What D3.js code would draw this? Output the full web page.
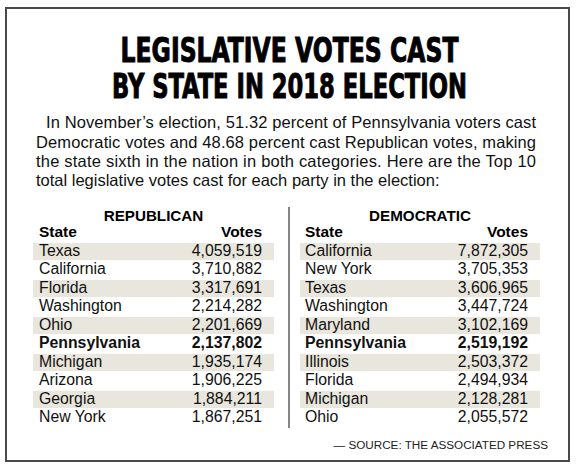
<!DOCTYPE html>
<html><head><meta charset="utf-8">
<script src="https://cdn.jsdelivr.net/npm/d3@7"></script>
<style>body{margin:0;background:#fff}svg{display:block}</style>
</head><body><svg id="c" width="577" height="469"></svg>
<script>
const titleLines = ["LEGISLATIVE VOTES CAST", "BY STATE IN 2018 ELECTION"];
const introLines = [
  "In November\u2019s election, 51.32 percent of Pennsylvania voters cast",
  "Democratic votes and 48.68 percent cast Republican votes, making",
  "the state sixth in the nation in both categories. Here are the Top 10",
  "total legislative votes cast for each party in the election:"
];
const repStates = ["Texas","California","Florida","Washington","Ohio","Pennsylvania","Michigan","Arizona","Georgia","New York"];
const repVotes = [4059519,3710882,3317691,2214282,2201669,2137802,1935174,1906225,1884211,1867251];
const demStates = ["California","New York","Texas","Washington","Maryland","Pennsylvania","Illinois","Florida","Michigan","Ohio"];
const demVotes = [7872305,3705353,3606965,3447724,3102169,2519192,2503372,2494934,2128281,2055572];
const partyNames = ["REPUBLICAN","DEMOCRATIC"];
const colHeaders = ["State","Votes"];
const highlight = "Pennsylvania";
const source = "\u2014 SOURCE: THE ASSOCIATED PRESS";

const svg = d3.select("#c");
const fmt = d3.format(",");
const sans = "'Liberation Sans', Arial, Helvetica, sans-serif";

svg.append("rect").attr("x",6).attr("y",8).attr("width",563).attr("height",453)
  .attr("fill","#fff").attr("stroke","#4a4a4a").attr("stroke-width",2);

// Title
const titleW = [338, 355];
const titleY = [62, 98];
titleLines.forEach((t,i)=>{
  const g = svg.append("g");
  const tx = g.append("text").text(t)
    .attr("font-family","'Liberation Sans Narrow','DejaVu Sans Condensed',sans-serif")
    .attr("font-weight","bold").attr("font-size",33)
    .attr("fill","#000").attr("stroke","#000").attr("stroke-width",0.9)
    .attr("text-anchor","middle");
  const w = tx.node().getComputedTextLength();
  const s = titleW[i]/w;
  g.attr("transform",`translate(289.5,${titleY[i]}) scale(${s},1.0)`);
});

// Intro
const introX = [46,36,36,36], introY=[128,148,167,186];
introLines.forEach((t,i)=>{
  const tx = svg.append("text").text(t).attr("x",introX[i]).attr("y",introY[i])
    .attr("font-family",sans).attr("font-size",16.5).attr("fill","#111");
  if(i<3){ tx.attr("textLength",536-introX[i]).attr("lengthAdjust","spacing"); }
});

// Tables
const tables = [
  {states:repStates, votes:repVotes, x0:33, x1:274, sx:39, vx:262},
  {states:demStates, votes:demVotes, x0:300, x1:540, sx:305, vx:528}
];
const y = d3.scaleBand().domain(d3.range(10)).range([243, 243+10*18.35]).paddingInner(0.07).paddingOuter(0);

tables.forEach((tb,ti)=>{
  const g = svg.append("g");
  g.append("text").text(partyNames[ti]).attr("x",(tb.x0+tb.x1)/2).attr("y",220.5)
    .attr("text-anchor","middle").attr("font-family",sans).attr("font-weight","bold")
    .attr("font-size",15.2).attr("fill","#000");
  g.append("text").text(colHeaders[0]).attr("x",tb.sx).attr("y",237)
    .attr("font-family",sans).attr("font-weight","bold").attr("font-size",15.5);
  g.append("text").text(colHeaders[1]).attr("x",tb.vx).attr("y",237).attr("text-anchor","end")
    .attr("font-family",sans).attr("font-weight","bold").attr("font-size",15.5);
  const rows = g.selectAll("g.row").data(tb.states.map((s,i)=>({s,v:tb.votes[i],i})))
    .join("g").attr("class","row");
  rows.filter(d=>d.i%2===0).append("rect")
    .attr("x",tb.x0).attr("width",tb.x1-tb.x0)
    .attr("y",d=>y(d.i)).attr("height",y.bandwidth()).attr("fill","#e9e6dd");
  rows.append("text").text(d=>d.s).attr("x",tb.sx).attr("y",d=>y(d.i)+13)
    .attr("font-family",sans).attr("font-size",15.8)
    .attr("font-weight",d=>d.s===highlight?"bold":"normal").attr("fill","#111");
  rows.append("text").text(d=>fmt(d.v)).attr("x",tb.vx).attr("y",d=>y(d.i)+13)
    .attr("text-anchor","end").attr("font-family",sans).attr("font-size",15.8)
    .attr("font-weight",d=>d.s===highlight?"bold":"normal").attr("fill","#111");
});

svg.append("line").attr("x1",289).attr("x2",289).attr("y1",207).attr("y2",428)
  .attr("stroke","#444").attr("stroke-width",1.3);

svg.append("text").text(source).attr("x",548).attr("y",449).attr("text-anchor","end")
  .attr("font-family",sans).attr("font-size",11.7).attr("fill","#222");
</script></body></html>
